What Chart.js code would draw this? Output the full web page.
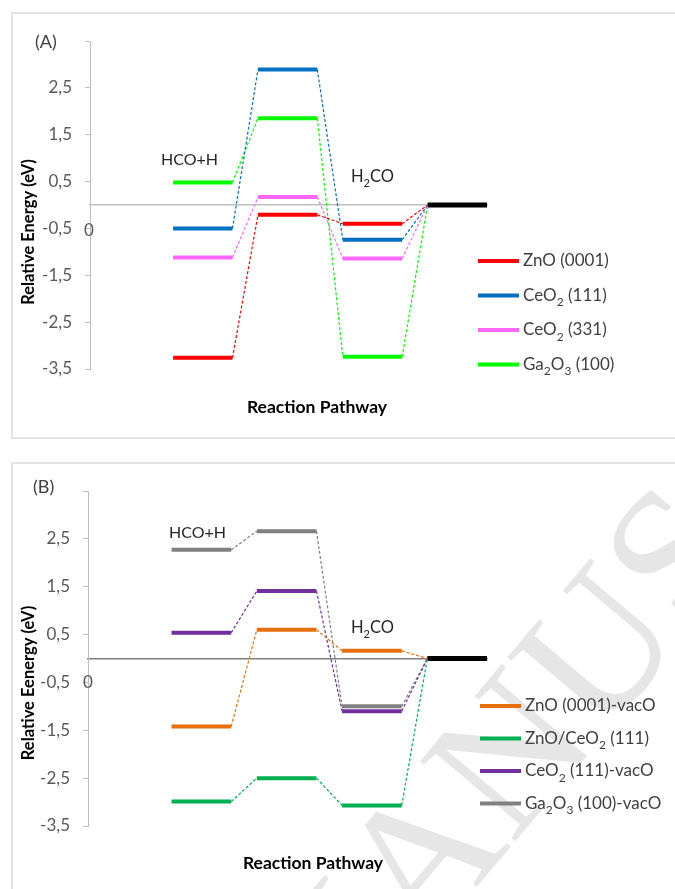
<!DOCTYPE html>
<html>
<head>
<meta charset="utf-8">
<script src="https://cdn.jsdelivr.net/npm/chart.js@4.4.0/dist/chart.umd.min.js"></script>
<style>
  body { margin: 0; background: #fff; width: 675px; height: 889px; overflow: hidden; position: relative; }
  .frame { position: absolute; left: 11px; width: 700px; border: 2px solid #e4e4e4; box-sizing: border-box; }
  #frameA { top: 12px; height: 427px; }
  #frameB { top: 462px; height: 460px; }
  canvas { position: absolute; left: 0; }
  #chartA { top: 0; }
  #chartB { top: 450px; }
</style>
</head>
<body>
<div class="frame" id="frameA"></div>
<div class="frame" id="frameB"></div>
<canvas id="chartA" width="675" height="450"></canvas>
<canvas id="chartB" width="675" height="439"></canvas>
<script>
// energy levels (eV) along the pathway: HCO+H, transition state, H2CO
const stages = ['HCO+H', 'TS', 'H₂CO'];
const finalEnergy = 0;

// panel A - clean surfaces
const labelsA = ['ZnO (0001)', 'CeO₂ (111)', 'CeO₂ (331)', 'Ga₂O₃ (100)'];
const colorsA = ['#ff0000', '#0070c0', '#ff66ff', '#00ff00'];
const znoA = [-3.26, -0.21, -0.40];
const ceo111A = [-0.50, 2.89, -0.74];
const ceo331A = [-1.12, 0.17, -1.14];
const ga2o3A = [0.48, 1.85, -3.24];

// panel B - surfaces with O vacancy
const labelsB = ['ZnO (0001)-vacO', 'ZnO/CeO₂ (111)', 'CeO₂ (111)-vacO', 'Ga₂O₃ (100)-vacO'];
const colorsB = ['#e8700c', '#00b050', '#7030a0', '#808080'];
const znoB = [-1.42, 0.60, 0.16];
const znoCeoB = [-2.99, -2.50, -3.07];
const ceoB = [0.54, 1.41, -1.10];
const ga2o3B = [2.27, 2.66, -1.00];

const yTicks = [-3.5, -2.5, -1.5, -0.5, 0.5, 1.5, 2.5, 3.5];

const HALF = 0.35;   // half width of a level bar, in stage units
const FONT = 'Lato, "Liberation Sans", sans-serif';

function levelPoints(vals) {
  const pts = [];
  vals.forEach((v, i) => {
    const c = i + 1;
    pts.push({x: c - HALF, y: v}, {x: c + HALF, y: v}, {x: c + HALF, y: null});
  });
  return pts;
}

function linkPoints(vals) {
  const all = vals.concat([finalEnergy]);
  const pts = [];
  for (let i = 0; i < all.length - 1; i++) {
    pts.push({x: i + 1 + HALF, y: all[i]}, {x: i + 2 - HALF, y: all[i + 1]}, {x: i + 2 - HALF, y: null});
  }
  return pts;
}

function buildDatasets(labels, colors, series) {
  const ds = [];
  series.forEach((vals, i) => {
    ds.push({label: labels[i] + ' link', data: linkPoints(vals), borderColor: colors[i],
      borderWidth: 1.2, borderDash: [3, 2], inLegend: false});
  });
  series.forEach((vals, i) => {
    ds.push({label: labels[i], data: levelPoints(vals), borderColor: colors[i],
      backgroundColor: colors[i], borderWidth: 4, inLegend: true});
  });
  ds.push({label: 'product', data: levelPoints([null, null, null, finalEnergy]).slice(9),
    borderColor: '#000', borderWidth: 5, inLegend: false});
  return ds.map(d => Object.assign({showLine: true, pointRadius: 0, spanGaps: false, fill: false}, d));
}

// draws text where unicode subscript digits are set smaller and lowered
const SUBS = '₀₁₂₃₄₅₆₇₈₉';
function drawRich(ctx, text, x, y, size, weight, align) {
  const parts = [];
  for (const ch of text) {
    const k = SUBS.indexOf(ch);
    const sub = k >= 0;
    const c = sub ? String(k) : ch;
    if (parts.length && parts[parts.length - 1].sub === sub) parts[parts.length - 1].t += c;
    else parts.push({t: c, sub: sub});
  }
  const fontOf = p => weight + ' ' + (p.sub ? Math.round(size * 0.68) : size) + 'px ' + FONT;
  let w = 0;
  parts.forEach(p => { ctx.font = fontOf(p); w += ctx.measureText(p.t).width; });
  let cx = align === 'center' ? x - w / 2 : align === 'right' ? x - w : x;
  ctx.textAlign = 'left';
  ctx.textBaseline = 'middle';
  parts.forEach(p => {
    ctx.font = fontOf(p);
    ctx.fillText(p.t, cx, p.sub ? y + size * 0.4 : y);
    cx += ctx.measureText(p.t).width;
  });
}

const notesPlugin = {
  id: 'notes',
  beforeDatasetsDraw(chart, args, opts) {
    const ctx = chart.ctx;
    (opts.watermark || []).forEach(m => {
      ctx.save();
      ctx.translate(m.x, m.y);
      ctx.rotate(m.angle * Math.PI / 180);
      ctx.font = m.size + 'px "Liberation Serif", serif';
      ctx.fillStyle = '#e6e6e6';
      ctx.textBaseline = 'alphabetic';
      ctx.fillText(m.text, 0, 0);
      ctx.restore();
    });
  },
  afterDraw(chart, args, opts) {
    const ctx = chart.ctx;
    (opts.items || []).forEach(n => {
      ctx.save();
      ctx.fillStyle = n.color || '#262626';
      ctx.translate(n.x, n.y);
      if (n.rotate) ctx.rotate(n.rotate * Math.PI / 180);
      drawRich(ctx, n.text, 0, 0, n.size || 16, n.weight || 'normal', n.align || 'left');
      ctx.restore();
    });
    // legend on the right side
    const lg = opts.legend;
    if (lg) {
      chart.data.datasets.filter(d => d.inLegend).forEach((d, i) => {
        const y = lg.y + i * lg.gap;
        ctx.save();
        ctx.strokeStyle = d.borderColor;
        ctx.lineWidth = 4;
        ctx.beginPath();
        ctx.moveTo(lg.x, y);
        ctx.lineTo(lg.x + lg.len, y);
        ctx.stroke();
        ctx.fillStyle = '#404040';
        drawRich(ctx, d.label, lg.x + lg.len + 4, y, 17, 'normal', 'left');
        ctx.restore();
      });
    }
  }
};

function makeChart(id, datasets, zeroColor, axisWidth, padBottom, notes) {
  return new Chart(document.getElementById(id), {
    type: 'scatter',
    data: {datasets: datasets},
    plugins: [notesPlugin],
    options: {
      responsive: false,
      animation: false,
      layout: {padding: {left: 0, top: 41, right: 675 - 487, bottom: padBottom}},
      scales: {
        x: {
          type: 'linear', min: -0.33, max: 4.35,
          position: {y: 0},
          ticks: {display: false},
          grid: {display: false, drawTicks: false},
          border: {display: true, color: zeroColor, width: 1.5}
        },
        y: {
          type: 'linear', min: -3.5, max: 3.5,
          afterFit(scale) { scale.width = axisWidth; },
          afterBuildTicks(scale) { scale.ticks = yTicks.map(v => ({value: v})); },
          ticks: {
            padding: 13,
            color: '#595959',
            font: {family: FONT, size: 17},
            callback: v => v === 3.5 ? '' : String(v).replace('.', ',')
          },
          grid: {drawOnChartArea: false, drawTicks: true, tickLength: 5, color: '#bfbfbf'},
          border: {display: true, color: '#bfbfbf', width: 1}
        }
      },
      plugins: {
        legend: {display: false},
        tooltip: {enabled: false},
        notes: notes
      }
    }
  });
}

makeChart('chartA',
  buildDatasets(labelsA, colorsA, [znoA, ceo111A, ceo331A, ga2o3A]),
  '#c0c0c0', 90, 450 - 369,
  {
    items: [
      {text: '(A)', x: 35, y: 42, size: 18, color: '#404040'},
      {text: stages[0], x: 161, y: 160, size: 16},
      {text: stages[2], x: 351, y: 177, size: 16.5},
      {text: '0', x: 89, y: 231, size: 17, color: '#595959', align: 'center'},
      {text: 'Relative Energy (eV)', x: 29, y: 232, size: 16.5, weight: 'bold', align: 'center', rotate: -90, color: '#000'},
      {text: 'Reaction Pathway', x: 317, y: 407, size: 17.5, weight: 'bold', align: 'center', color: '#000'}
    ],
    legend: {x: 478, y: 261, gap: 34.5, len: 41}
  });

makeChart('chartB',
  buildDatasets(labelsB, colorsB, [znoB, znoCeoB, ceoB, ga2o3B]),
  '#808080', 88, 439 - 376,
  {
    watermark: [{text: 'MANUSCRIPT', x: 315, y: 630, angle: -50, size: 190}],
    items: [
      {text: '(B)', x: 33, y: 37, size: 18, color: '#404040'},
      {text: stages[0], x: 169, y: 83, size: 16},
      {text: stages[2], x: 351, y: 178, size: 16.5},
      {text: '0', x: 88, y: 233, size: 17, color: '#595959', align: 'center'},
      {text: 'Relative Eenergy (eV)', x: 29, y: 233, size: 16.5, weight: 'bold', align: 'center', rotate: -90, color: '#000'},
      {text: 'Reaction Pathway', x: 313, y: 413, size: 17.5, weight: 'bold', align: 'center', color: '#000'}
    ],
    legend: {x: 480, y: 256, gap: 32.5, len: 41}
  });
</script>
</body>
</html>
